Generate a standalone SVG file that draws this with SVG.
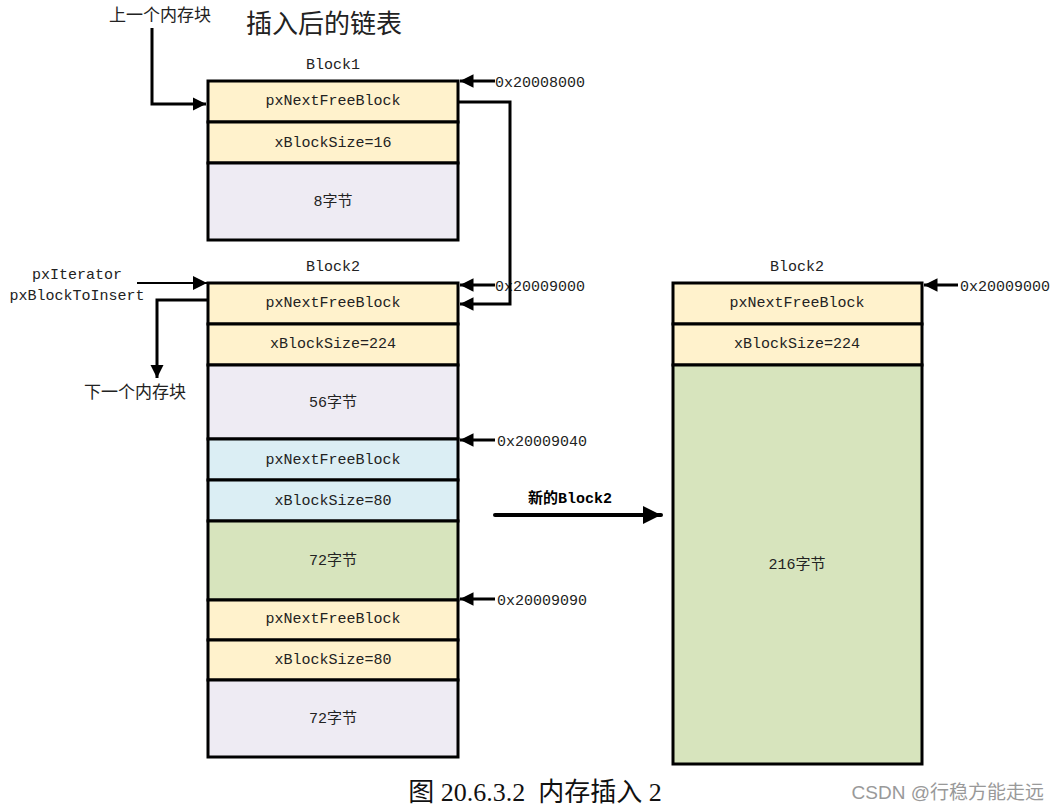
<svg xmlns="http://www.w3.org/2000/svg" width="1059" height="811" viewBox="0 0 1059 811">
<style>
.cell{stroke:#000;stroke-width:3}
.y{fill:#FFF2CC}.p{fill:#EEEBF3}.b{fill:#DBEEF4}.g{fill:#D7E4BD}
.t{font-family:"Liberation Mono","Noto Sans CJK SC",monospace;font-size:15px;fill:#222;text-anchor:middle;dominant-baseline:central}
.l{font-family:"Liberation Mono","Noto Sans CJK SC",monospace;font-size:15px;fill:#222}
.cn{font-family:"Noto Sans CJK SC",sans-serif;font-size:17px;fill:#222}
.w{stroke:#000;stroke-width:3;fill:none}
.a{stroke:#000;stroke-width:2;fill:none}
</style>
<defs>
<marker id="ah" viewBox="0 0 10 10" refX="10" refY="5" markerWidth="4.5" markerHeight="4.5" markerUnits="strokeWidth" orient="auto"><path d="M0,0L10,5L0,10z" fill="#000"/></marker>
<marker id="ah2" viewBox="0 0 10 10" refX="10" refY="5" markerWidth="7" markerHeight="7" markerUnits="strokeWidth" orient="auto"><path d="M0,0L10,5L0,10z" fill="#000"/></marker>
</defs>
<text x="324" y="33" font-family="Noto Sans CJK SC,sans-serif" font-size="26" fill="#222" text-anchor="middle">插入后的链表</text>
<text x="160" y="21" class="cn" text-anchor="middle">上一个内存块</text>
<text x="333" y="65" class="t">Block1</text>
<text x="333" y="267" class="t">Block2</text>
<text x="797" y="267" class="t">Block2</text>
<g id="block1">
<rect class="cell y" x="208" y="81" width="250" height="41"/><text class="t" x="333" y="101">pxNextFreeBlock</text>
<rect class="cell y" x="208" y="122" width="250" height="41"/><text class="t" x="333" y="143">xBlockSize=16</text>
<rect class="cell p" x="208" y="163" width="250" height="77"/><text class="t" x="333" y="202">8字节</text>
</g>
<g id="block2">
<rect class="cell y" x="208" y="283" width="250" height="41"/><text class="t" x="333" y="303">pxNextFreeBlock</text>
<rect class="cell y" x="208" y="324" width="250" height="41"/><text class="t" x="333" y="344">xBlockSize=224</text>
<rect class="cell p" x="208" y="365" width="250" height="74"/><text class="t" x="333" y="403">56字节</text>
<rect class="cell b" x="208" y="439" width="250" height="41"/><text class="t" x="333" y="460">pxNextFreeBlock</text>
<rect class="cell b" x="208" y="480" width="250" height="41"/><text class="t" x="333" y="501">xBlockSize=80</text>
<rect class="cell g" x="208" y="521" width="250" height="79"/><text class="t" x="333" y="561">72字节</text>
<rect class="cell y" x="208" y="600" width="250" height="40"/><text class="t" x="333" y="619">pxNextFreeBlock</text>
<rect class="cell y" x="208" y="640" width="250" height="40"/><text class="t" x="333" y="660">xBlockSize=80</text>
<rect class="cell p" x="208" y="680" width="250" height="77"/><text class="t" x="333" y="719">72字节</text>
</g>
<g id="newblock2">
<rect class="cell y" x="673" y="283" width="249" height="41"/><text class="t" x="797" y="303">pxNextFreeBlock</text>
<rect class="cell y" x="673" y="324" width="249" height="41"/><text class="t" x="797" y="344">xBlockSize=224</text>
<rect class="cell g" x="673" y="365" width="249" height="399"/><text class="t" x="797" y="565">216字节</text>
</g>
<g id="labels">
<text class="l" x="495" y="87">0x20008000</text>
<text class="l" x="495" y="291">0x20009000</text>
<text class="l" x="497" y="446">0x20009040</text>
<text class="l" x="497" y="605">0x20009090</text>
<text class="l" x="960" y="291">0x20009000</text>
<text class="l" x="77" y="279" text-anchor="middle">pxIterator</text>
<text class="l" x="77" y="300" text-anchor="middle">pxBlockToInsert</text>
<text x="135" y="398" class="cn" text-anchor="middle">下一个内存块</text>
<text x="570" y="503" font-family="Liberation Mono,Noto Sans CJK SC,monospace" font-size="15" font-weight="bold" fill="#000" text-anchor="middle">新的Block2</text>
<text x="535" y="801" font-family="Liberation Serif,Noto Sans CJK SC,serif" font-size="26" fill="#111" text-anchor="middle" xml:space="preserve">图 20.6.3.2  内存插入 2</text>
<text x="1044" y="799" font-family="Liberation Sans,Noto Sans CJK SC,sans-serif" font-size="19" fill="#999" text-anchor="end">CSDN @行稳方能走远</text>
</g>
<g id="connectors">
<polyline class="w" points="152,28 152,104 206,104" marker-end="url(#ah)"/>
<polyline class="w" points="458,102 510,102 510,304 460,304" marker-end="url(#ah)"/>
<line class="w" x1="495" y1="81" x2="460" y2="81" marker-end="url(#ah)"/>
<line class="w" x1="495" y1="285" x2="460" y2="285" marker-end="url(#ah)"/>
<line class="w" x1="495" y1="440" x2="460" y2="440" marker-end="url(#ah)"/>
<line class="w" x1="495" y1="599" x2="460" y2="599" marker-end="url(#ah)"/>
<line class="w" x1="958" y1="285" x2="924" y2="285" marker-end="url(#ah)"/>
<line class="a" x1="137" y1="283" x2="207" y2="283" marker-end="url(#ah2)"/>
<polyline class="w" points="208,300 157,300 157,378" marker-end="url(#ah)"/>
<line x1="495" y1="515" x2="661" y2="515" stroke="#000" stroke-width="4" stroke-linecap="round" marker-end="url(#ah)"/>
</g>
</svg>
